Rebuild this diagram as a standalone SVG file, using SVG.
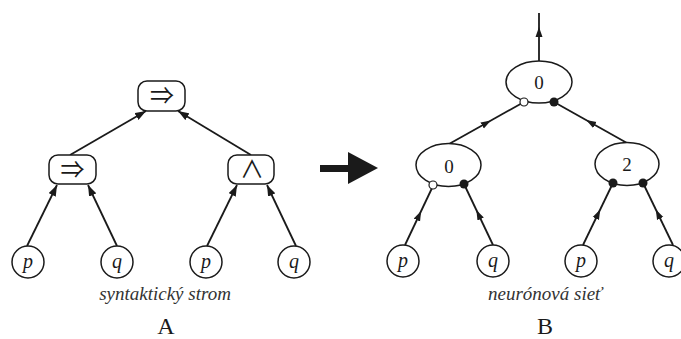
<svg xmlns="http://www.w3.org/2000/svg" width="681" height="339" viewBox="0 0 681 339">
<defs>
<marker id="ah" markerUnits="userSpaceOnUse" markerWidth="11" markerHeight="8" refX="11" refY="4" orient="auto"><path d="M0,0 L11,4 L0,8 z" fill="#1a1a1a"/></marker>
<marker id="am" markerUnits="userSpaceOnUse" markerWidth="10" markerHeight="8" refX="5" refY="4" orient="auto"><path d="M0,0.5 L10,4 L0,7.5 z" fill="#1a1a1a"/></marker>
<style>
.box{fill:#fff;stroke:#1a1a1a;stroke-width:1.5}
.nd{fill:#fff;stroke:#1a1a1a;stroke-width:1.5}
.ea{fill:none;stroke:#1a1a1a;stroke-width:1.8;marker-end:url(#ah)}
.em{fill:none;stroke:#1a1a1a;stroke-width:1.8;marker-mid:url(#am)}
.var{font-family:"Liberation Serif",serif;font-style:italic;font-size:20px;fill:#1a1a1a;text-anchor:middle}
.num{font-family:"Liberation Serif",serif;font-size:19px;fill:#1a1a1a;text-anchor:middle}
.sym{font-family:"Noto Sans CJK JP",sans-serif;font-size:24px;fill:#1a1a1a;text-anchor:middle}
.cap{font-family:"Liberation Serif",serif;font-style:italic;font-size:19px;fill:#333;text-anchor:middle}
.lbl{font-family:"Liberation Serif",serif;font-size:24px;fill:#1a1a1a;text-anchor:middle}
.open{fill:#fff;stroke:#1a1a1a;stroke-width:1.2}
.dot{fill:#1a1a1a}
</style>
</defs>
<g id="connectors">
<line class="ea" x1="27" y1="246" x2="57" y2="185"/>
<line class="ea" x1="117" y1="246" x2="88" y2="185"/>
<line class="ea" x1="207" y1="246" x2="237" y2="185"/>
<line class="ea" x1="296" y1="246" x2="267" y2="185"/>
<line class="ea" x1="70" y1="155" x2="146" y2="111"/>
<line class="ea" x1="251" y1="155" x2="178" y2="111"/>
<path class="em" d="M539,61 L539,32 L539,13"/>
<path class="em" d="M449,144 L486.5,123 L524,102"/>
<path class="em" d="M627,143 L590.5,122.5 L554,102"/>
<path class="em" d="M405,245 L419,215.5 L433,186"/>
<path class="em" d="M493,245 L478.5,214.5 L464,184"/>
<path class="em" d="M583,245 L598,214 L613,183"/>
<path class="em" d="M673,245 L658,214 L643,183"/>
</g>
<g id="bigArrow"><path d="M320,165 L348,165 L348,152 L378,168 L348,184 L348,172 L320,172 z" fill="#1a1a1a"/></g>
<g id="a-top"><rect class="box" x="138" y="81" width="47" height="30" rx="9"/><text class="sym" x="162" y="104">⇒</text></g>
<g id="a-left"><rect class="box" x="49" y="155" width="47" height="29" rx="9"/><text class="sym" x="72.5" y="178">⇒</text></g>
<g id="a-right"><rect class="box" x="228" y="155" width="46" height="29" rx="9"/><text class="sym" x="252" y="178">∧</text></g>
<g id="a-p1"><circle class="nd" cx="28" cy="262" r="16"/><text class="var" x="28" y="268">p</text></g>
<g id="a-q1"><circle class="nd" cx="117" cy="262" r="16"/><text class="var" x="117" y="268">q</text></g>
<g id="a-p2"><circle class="nd" cx="206" cy="262" r="16"/><text class="var" x="206" y="268">p</text></g>
<g id="a-q2"><circle class="nd" cx="294" cy="262" r="16"/><text class="var" x="294" y="268">q</text></g>
<text class="cap" x="165" y="300">syntaktický strom</text>
<text class="lbl" x="166" y="334">A</text>
<g id="b-top"><ellipse class="nd" cx="539" cy="82" rx="33" ry="21"/><text class="num" x="539" y="89">0</text><circle class="open" cx="524" cy="102" r="4"/><circle class="dot" cx="554" cy="102" r="4.5"/></g>
<g id="b-left"><ellipse class="nd" cx="448.5" cy="165" rx="32.5" ry="21.5"/><text class="num" x="449" y="173">0</text><circle class="open" cx="433" cy="185" r="4"/><circle class="dot" cx="464" cy="184" r="4.5"/></g>
<g id="b-right"><ellipse class="nd" cx="627" cy="164" rx="32" ry="21.5"/><text class="num" x="627" y="171">2</text><circle class="dot" cx="613" cy="183" r="4.5"/><circle class="dot" cx="643" cy="183" r="4.5"/></g>
<g id="b-p1"><circle class="nd" cx="403" cy="261" r="16"/><text class="var" x="403" y="267">p</text></g>
<g id="b-q1"><circle class="nd" cx="493" cy="261" r="16"/><text class="var" x="493" y="267">q</text></g>
<g id="b-p2"><circle class="nd" cx="581" cy="261" r="16"/><text class="var" x="581" y="267">p</text></g>
<g id="b-q2"><circle class="nd" cx="669" cy="261" r="16"/><text class="var" x="669" y="267">q</text></g>
<text class="cap" x="545" y="300">neurónová sieť</text>
<text class="lbl" x="545" y="334">B</text>
</svg>
